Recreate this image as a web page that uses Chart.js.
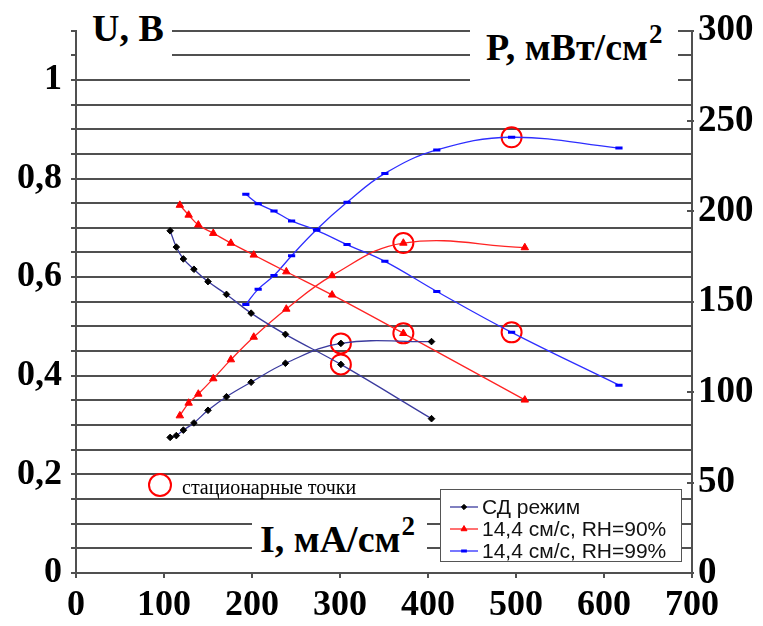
<!DOCTYPE html>
<html>
<head>
<meta charset="utf-8">
<script src="https://cdn.jsdelivr.net/npm/chart.js@4/dist/chart.umd.min.js"></script>
<style>
  html, body { margin: 0; padding: 0; background: #fff; }
  #wrap { position: relative; width: 763px; height: 626px; overflow: hidden; background: #fff; }
  #plot { position: absolute; left: 0; top: 0; }
  .box { position: absolute; background: #fff; }
  .title { position: absolute; font-family: "Liberation Serif", "Times New Roman", serif; font-weight: bold;
           color: #000; white-space: nowrap; line-height: 1; }
  .title .sup { position: relative; font-size: 27px; top: -17px; margin-left: 1px; }
  .note { position: absolute; font-family: "Liberation Serif", "Times New Roman", serif; font-size: 20px;
          line-height: 1; color: #000; white-space: nowrap; }
  .ring { position: absolute; border: 2px solid #ff0000; border-radius: 50%; box-sizing: border-box; }
  #legend { position: absolute; background: #fff; border: 1.5px solid #555; box-sizing: border-box; }
  .lrow { position: absolute; height: 22px; font-family: "Liberation Sans", Arial, sans-serif; font-size: 21px;
          line-height: 22px; color: #111; white-space: nowrap; }
  .lrow canvas { position: absolute; left: 0; top: 0; }
  .lrow span { position: absolute; left: 32px; top: 0; }
</style>
</head>
<body>
<div id="wrap">
  <canvas id="plot" width="763" height="626"></canvas>

  <!-- axis titles on white boxes -->
  <div class="box" style="left:77px; top:0; width:95px; height:60px;"></div>
  <div class="title" style="left:92px; top:9px; font-size:38px;">U, В</div>

  <div class="box" style="left:470px; top:0; width:208px; height:88px;"></div>
  <div class="title" style="left:486px; top:28px; font-size:38px;">P, мВт/см<span class="sup">2</span></div>

  <div class="box" style="left:252px; top:506px; width:175px; height:60px;"></div>
  <div class="title" style="left:260px; top:520px; font-size:38px;">I, мА/см<span class="sup">2</span></div>

  <!-- note for the ringed points -->
  <div class="ring" style="left:148px; top:473px; width:24px; height:24px;"></div>
  <div class="note" style="left:182px; top:477px;">стационарные точки</div>

  <div id="legend" style="left:440px; top:489px; width:242px; height:73px;"></div>
</div>

<script>
// Axis ticks
const currentTicks = [0, 100, 200, 300, 400, 500, 600, 700];
const voltageTickValues = [0, 0.2, 0.4, 0.6, 0.8, 1];
const voltageTickLabels = ['0', '0,2', '0,4', '0,6', '0,8', '1'];
const powerTicks = [0, 50, 100, 150, 200, 250, 300];

// Series names
const seriesNames = ['СД режим', '14,4 см/с, RH=90%', '14,4 см/с, RH=99%'];

// СД режим: current density (mA/cm²), voltage (V), power density (mW/cm²)
const sdCurrent = [107, 114, 122, 134, 150, 171, 199, 238, 301, 404];
const sdVoltage = [0.694, 0.661, 0.637, 0.616, 0.591, 0.565, 0.527, 0.484, 0.423, 0.313];
const sdPower   = [75, 76, 79, 83, 90, 97.5, 105.5, 116, 127, 128];

// 14,4 см/с, RH=90%
const rh90Current = [118, 128, 139, 156, 176, 202, 239, 291, 372, 510];
const rh90Voltage = [0.746, 0.726, 0.706, 0.689, 0.669, 0.645, 0.611, 0.564, 0.486, 0.351];
const rh90Power   = [87, 94, 99, 107.5, 118, 130.5, 146, 164.5, 182.5, 180];

// 14,4 см/с, RH=99%
const rh99Current = [193, 207, 225, 245, 273.5, 308, 351, 410, 495, 617];
const rh99Voltage = [0.768, 0.749, 0.734, 0.714, 0.695, 0.666, 0.632, 0.571, 0.488, 0.381];
const rh99Power   = [148.5, 157, 164.5, 175.5, 190, 205, 221, 234, 241, 235];

// Index of the stationary (steady-state) point in each series
const stationaryIndex = [8, 8, 8];

const series = [
  { current: sdCurrent,   voltage: sdVoltage,   power: sdPower },
  { current: rh90Current, voltage: rh90Voltage, power: rh90Power },
  { current: rh99Current, voltage: rh99Voltage, power: rh99Power }
];

const looks = [
  { line: '#3b3b9e', pointStyle: 'rectRot',  radius: 3.3, fill: '#000000', stroke: '#000000', width: 1 },
  { line: '#ff2424', pointStyle: 'triangle', radius: 4.3, fill: '#ff0000', stroke: '#ff0000', width: 1 },
  { line: '#2e2eff', pointStyle: 'line',     radius: 3.6, fill: '#0000ff', stroke: '#0000ff', width: 3 }
];

const GRID = '#505050';
const serifBold = { family: "'Liberation Serif', 'Times New Roman', serif", weight: 'bold', size: 36 };

function toPoints(xs, ys) { return xs.map((x, i) => ({ x: x, y: ys[i] })); }

const datasets = [];
series.forEach((s, k) => {
  const lk = looks[k];
  ['voltage', 'power'].forEach(key => {
    datasets.push({
      label: seriesNames[k],
      data: toPoints(s.current, s[key]),
      yAxisID: key === 'voltage' ? 'u' : 'p',
      borderColor: lk.line,
      borderWidth: 1.3,
      tension: 0.4,
      pointStyle: lk.pointStyle,
      pointRadius: lk.radius,
      pointBackgroundColor: lk.fill,
      pointBorderColor: lk.stroke,
      pointBorderWidth: lk.width,
      fill: false
    });
  });
});

// Rings round the stationary points
const ringStyle = {
  showLine: false, pointStyle: 'circle', pointRadius: 10, pointBorderWidth: 2,
  pointBorderColor: '#ff0000', pointBackgroundColor: 'rgba(0,0,0,0)', borderColor: '#ff0000'
};
datasets.push(Object.assign({
  label: 'stationary U', yAxisID: 'u',
  data: series.map((s, k) => ({ x: s.current[stationaryIndex[k]], y: s.voltage[stationaryIndex[k]] }))
}, ringStyle));
datasets.push(Object.assign({
  label: 'stationary P', yAxisID: 'p',
  data: series.map((s, k) => ({ x: s.current[stationaryIndex[k]], y: s.power[stationaryIndex[k]] }))
}, ringStyle));

// Short inward tick marks on the power axis
const powerAxisMarks = {
  id: 'powerAxisMarks',
  afterDraw(chart) {
    const sc = chart.scales.p;
    const ctx = chart.ctx;
    ctx.save();
    ctx.strokeStyle = GRID;
    ctx.lineWidth = 2;
    sc.ticks.forEach(t => {
      const y = Math.round(sc.getPixelForValue(t.value));
      ctx.beginPath();
      ctx.moveTo(sc.left - 5, y);
      ctx.lineTo(sc.left + 2, y);
      ctx.stroke();
    });
    ctx.restore();
  }
};

new Chart(document.getElementById('plot'), {
  type: 'line',
  data: { datasets: datasets },
  plugins: [powerAxisMarks],
  options: {
    responsive: false,
    animation: false,
    events: [],
    layout: { padding: { top: 24, left: 0, right: 0, bottom: 0 } },
    plugins: { legend: { display: false }, tooltip: { enabled: false } },
    scales: {
      x: {
        type: 'linear', min: 0, max: 700,
        ticks: {
          stepSize: 100, autoSkip: false, maxRotation: 0, padding: 6,
          color: '#000', font: serifBold,
          callback: v => currentTicks.includes(v) ? String(v) : ''
        },
        grid: { drawOnChartArea: false, tickLength: 5, color: GRID, lineWidth: 2 },
        border: { color: GRID, width: 2 },
        afterFit: s => { s.height = 53; }
      },
      u: {
        type: 'linear', position: 'left', min: 0, max: 1.1,
        ticks: {
          stepSize: 0.05, autoSkip: false, padding: 9, color: '#000', font: serifBold,
          callback: v => {
            const i = voltageTickValues.findIndex(t => Math.abs(t - v) < 1e-6);
            return i >= 0 ? voltageTickLabels[i] : '';
          }
        },
        grid: { color: GRID, lineWidth: 2, tickLength: 5 },
        border: { color: GRID, width: 2 },
        afterFit: s => { s.width = 76; }
      },
      p: {
        type: 'linear', position: 'right', min: 0, max: 300,
        ticks: {
          stepSize: 50, autoSkip: false, padding: 6, color: '#000',
          font: Object.assign({}, serifBold, { size: 37 }),
          callback: v => powerTicks.includes(v) ? String(v) : ''
        },
        grid: { drawOnChartArea: false, drawTicks: false },
        border: { color: GRID, width: 2 },
        afterFit: s => { s.width = 71; }
      }
    }
  }
});

// Legend built from the series styles
const legend = document.getElementById('legend');
seriesNames.forEach((name, k) => {
  const lk = looks[k];
  const row = document.createElement('div');
  row.className = 'lrow';
  row.style.left = '9px';
  row.style.top = (6 + k * 22) + 'px';
  const c = document.createElement('canvas');
  c.width = 28; c.height = 22;
  const g = c.getContext('2d');
  g.strokeStyle = lk.line; g.lineWidth = 1.3;
  g.beginPath(); g.moveTo(0, 11); g.lineTo(28, 11); g.stroke();
  g.fillStyle = lk.fill; g.strokeStyle = lk.stroke; g.lineWidth = lk.width;
  Chart.helpers.drawPoint(g, { pointStyle: lk.pointStyle, radius: lk.radius * 0.8, rotation: 0, borderWidth: lk.width }, 14, 11);
  const t = document.createElement('span');
  t.textContent = name;
  row.appendChild(c);
  row.appendChild(t);
  legend.appendChild(row);
});
</script>
</body>
</html>
